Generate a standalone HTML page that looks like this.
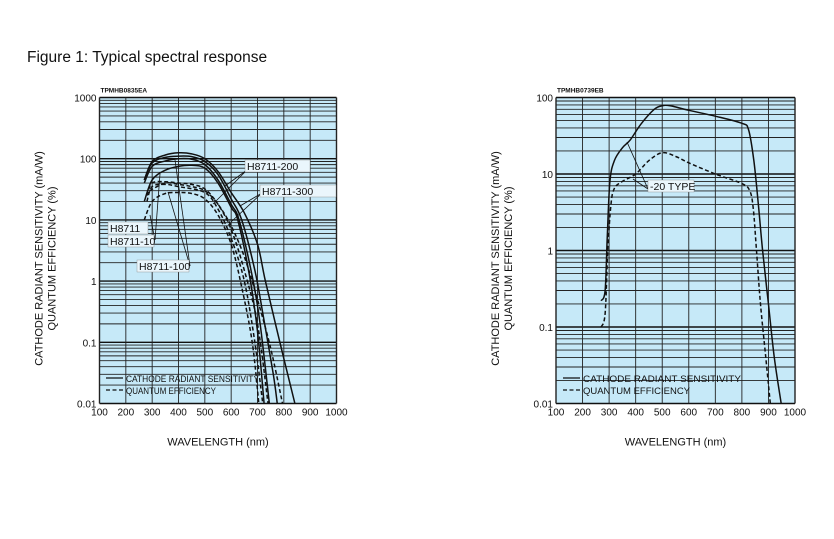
<!DOCTYPE html>
<html><head><meta charset="utf-8"><style>
body{margin:0;background:#fff;width:834px;height:539px;overflow:hidden;font-family:"Liberation Sans",Arial,sans-serif}
svg{position:absolute;left:0;top:0}
</style></head><body>
<svg id="s" width="834" height="539" xmlns="http://www.w3.org/2000/svg" font-family="Liberation Sans, Arial, sans-serif">
<text x="27" y="62" font-size="15.5" fill="#111">Figure 1: Typical spectral response</text>
<g id="L"></g><g id="R"></g>
</svg>
<script>
const NS="http://www.w3.org/2000/svg";
function el(p,t,a,txt){const e=document.createElementNS(NS,t);for(const k in a)e.setAttribute(k,a[k]);if(txt!==undefined)e.textContent=txt;p.appendChild(e);return e;}
function chart(g,x0,x1,y0,y1,dmax,ndec,code,tlbl){
  const X=l=>x0+(l-100)/900*(x1-x0);
  const dh=(y1-y0)/ndec;
  const Y=v=>y0+(dmax-Math.log10(v))*dh;
  el(g,'rect',{x:x0,y:y0,width:x1-x0,height:y1-y0,fill:'#c6e9f8'});
  for(let d=0;d<ndec;d++){for(let m=2;m<=9;m++){const yy=y0+(d+1-Math.log10(m))*dh;el(g,'line',{x1:x0,x2:x1,y1:yy,y2:yy,stroke:'#222','stroke-width':0.9});}}
  for(let d=0;d<=ndec;d++){const yy=y0+d*dh;el(g,'line',{x1:x0,x2:x1,y1:yy,y2:yy,stroke:'#111','stroke-width':1.4});}
  for(let l=100;l<=1000;l+=100){el(g,'line',{x1:X(l),x2:X(l),y1:y0,y2:y1,stroke:'#222','stroke-width':(l==100||l==1000)?1.4:0.9});
    el(g,'text',{x:X(l),y:y1+12,'font-size':10,'text-anchor':'middle',fill:'#111'},String(l));}
  for(let d=0;d<=ndec;d++){const v=Math.pow(10,dmax-d);let s=v>=1?String(v):String(+v.toFixed(2));el(g,'text',{x:x0-3,y:y0+d*dh+4,'font-size':10,'text-anchor':'end',fill:'#111'},s);}
  el(g,'text',{x:x0+1,y:y0-5,'font-size':6.5,'font-weight':'bold',fill:'#111'},code);
  const cx=(x0+x1)/2,cy=(y0+y1)/2;
  el(g,'text',{x:cx,y:y1+42,'font-size':11,'text-anchor':'middle',fill:'#111'},'WAVELENGTH (nm)');
  el(g,'text',{transform:`translate(${x0-57},${cy+8}) rotate(-90)`,'font-size':11,'text-anchor':'middle',fill:'#111'},'CATHODE RADIANT SENSITIVITY (mA/W)');
  el(g,'text',{transform:`translate(${x0-44},${cy+8}) rotate(-90)`,'font-size':11,'text-anchor':'middle',fill:'#111'},'QUANTUM EFFICIENCY (%)');
  return {X,Y};
}
function curve(g,c,pts,dash){
  const P=pts.map(p=>[c.X(p[0]),c.Y(p[1])]);
  let d=`M${P[0][0]},${P[0][1]}`;
  for(let i=0;i<P.length-1;i++){const p0=P[i-1]||P[i],p1=P[i],p2=P[i+1],p3=P[i+2]||p2;
    d+=` C${p1[0]+(p2[0]-p0[0])/6},${p1[1]+(p2[1]-p0[1])/6} ${p2[0]-(p3[0]-p1[0])/6},${p2[1]-(p3[1]-p1[1])/6} ${p2[0]},${p2[1]}`;}
  el(g,'path',{d,fill:'none',stroke:'#111','stroke-width':1.5,'stroke-dasharray':dash?'4,2.5':'none'});
}
function label(g,x,y,t,w){el(g,'rect',{x:x-2,y:y-10,width:w,height:12,fill:'#eaf6fc',stroke:'#888','stroke-width':0.4});el(g,'text',{x,y,'font-size':10.5,fill:'#111'},t);}
function legend(g,x,y,w1,w2){
  el(g,'line',{x1:x,x2:x+17,y1:y,y2:y,stroke:'#111','stroke-width':1.3});
  el(g,'text',{x:x+20,y:y+4,'font-size':9.5,fill:'#111',textLength:w1,lengthAdjust:'spacingAndGlyphs'},'CATHODE RADIANT SENSITIVITY');
  el(g,'line',{x1:x,x2:x+17,y1:y+12,y2:y+12,stroke:'#111','stroke-width':1.3,'stroke-dasharray':'4,2.5'});
  el(g,'text',{x:x+20,y:y+16,'font-size':9.5,fill:'#111',textLength:w2,lengthAdjust:'spacingAndGlyphs'},'QUANTUM EFFICIENCY');
}
// Left
const gL=document.getElementById('L');
const cL=chart(gL,99.5,336.5,97.5,403.5,3,5,'TPMHB0835EA');
[[[270,45],[300,90],[350,115],[400,125],[450,120],[500,100],[550,62],[600,28],[650,13],[700,4],[730,1],[785,0.1],[842,0.01]],
 [[270,45],[300,85],[350,105],[400,110],[450,108],[500,90],[550,55],[600,22],[640,10],[690,1.5],[720,0.3],[760,0.03],[775,0.01]],
 [[270,40],[300,75],[350,92],[400,100],[450,98],[500,80],[550,45],[600,18],[630,10],[680,1.2],[710,0.2],[745,0.01]],
 [[270,20],[300,45],[350,65],[400,75],[450,78],[500,70],[550,40],[600,16],[625,10],[670,1.2],[700,0.15],[725,0.01]]].forEach(p=>curve(gL,cL,p,false));
[[[290,30],[350,40],[400,38],[450,35],[500,30],[550,18],[600,8],[650,2.5],[700,0.5],[750,0.08],[795,0.01]],
 [[280,25],[300,40],[350,42],[400,40],[450,38],[500,32],[550,18],[600,7],[650,1.5],[700,0.2],[740,0.01]],
 [[280,20],[300,35],[350,38],[400,35],[500,28],[550,15],[600,5],[650,1],[690,0.1],[720,0.01]],
 [[270,10],[300,20],[350,27],[400,28],[450,27],[500,22],[550,12],[600,4],[640,0.8],[680,0.1],[705,0.01]]].forEach(p=>curve(gL,cL,p,true));
const ln=(g,a,b,c,d)=>el(g,'line',{x1:a,y1:b,x2:c,y2:d,stroke:'#111','stroke-width':0.8});
ln(gL,247,170,225,186);ln(gL,247,170,213,204);ln(gL,262,193,240,206);ln(gL,262,193,231,222);
ln(gL,155,240,150,215);ln(gL,155,240,160,174);ln(gL,190,266,175,160);ln(gL,190,266,168,192);
label(gL,247,170,'H8711-200',65);label(gL,262,195,'H8711-300',76);
label(gL,110,232,'H8711',40);label(gL,110,245,'H8711-10',46);label(gL,139,270,'H8711-100',52);
legend(gL,106,378,133,90);
// Right
const gR=document.getElementById('R');
const cR=chart(gR,556,795,97.5,403.5,2,4,'TPMHB0739EB');
curve(gR,cR,[[270,0.22],[285,0.3],[293,1.5],[303,8],[320,15],[350,22],[380,28],[420,45],[470,70],[500,78],[530,78],[600,68],[700,57],[800,46],[825,38],[845,15],[862,4],[878,1],[900,0.2],[922,0.04],[948,0.01]],false);
curve(gR,cR,[[270,0.1],[285,0.15],[295,1],[307,4],[320,6.5],[350,8],[400,10],[450,15],[500,19],[550,17],[600,14],[700,10],[800,7.5],[830,6],[843,3.5],[855,1],[870,0.2],[890,0.04],[907,0.01]],true);
ln(gR,648,189,627,142);ln(gR,648,189,633,179);
label(gR,650,190,'-20 TYPE',46);
legend(gR,563,378,158,107);
</script>
</body></html>
